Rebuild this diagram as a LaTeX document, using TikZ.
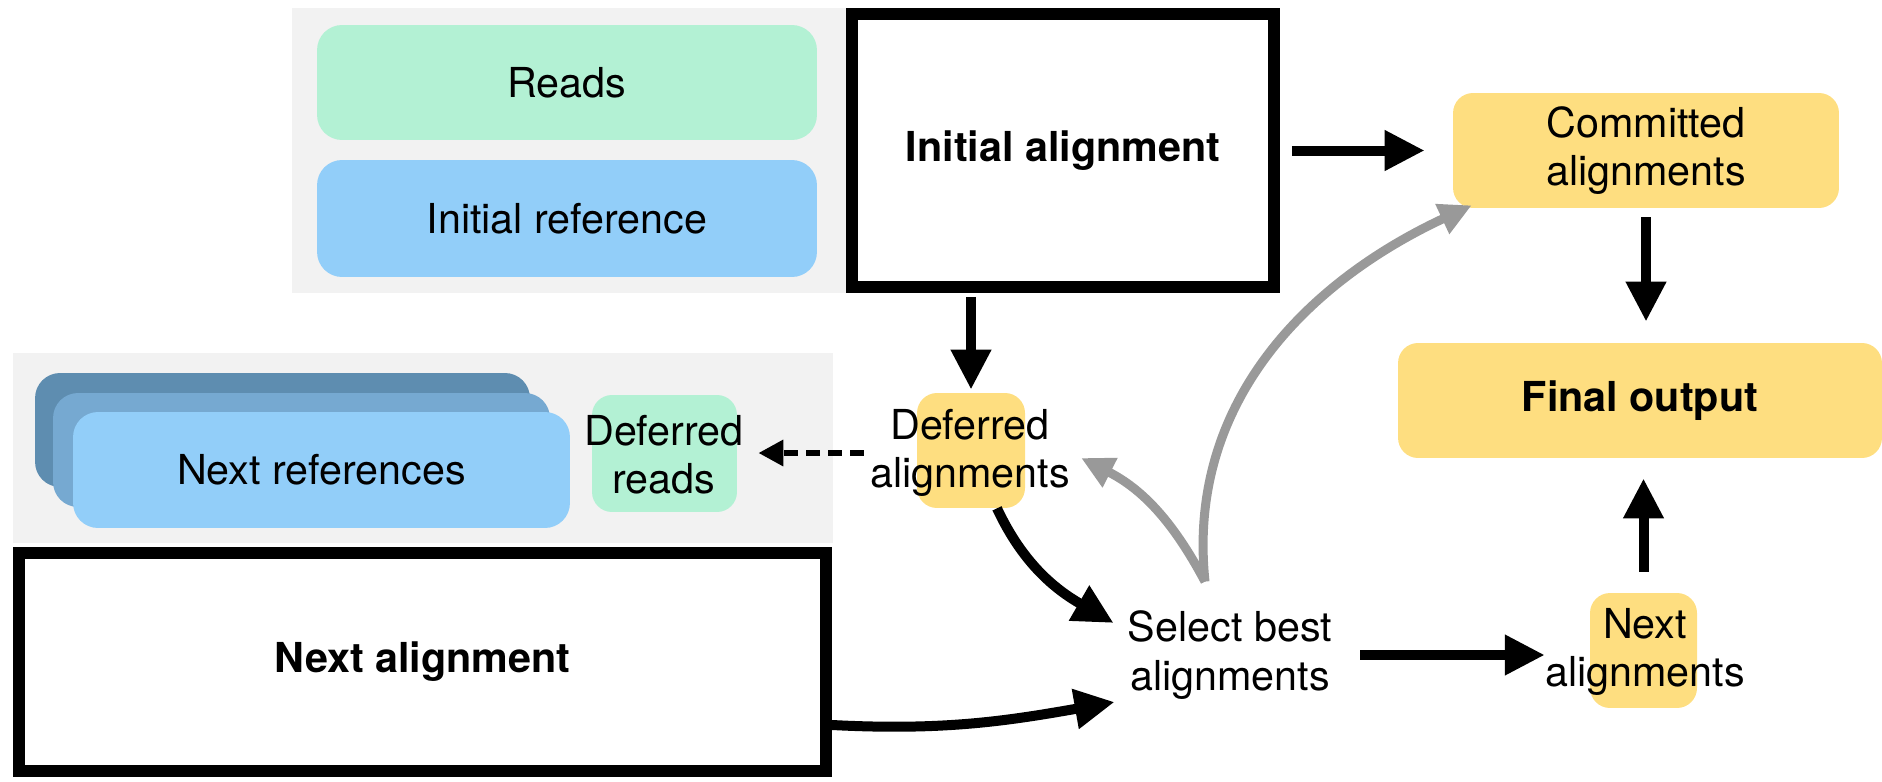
\documentclass[tikz,border=0pt]{standalone}
\usepackage{fontspec}
\setmainfont{TeX Gyre Heros}
\usetikzlibrary{arrows.meta}
\definecolor{panelgray}{HTML}{F2F2F2}
\definecolor{readgreen}{HTML}{B3F1D4}
\definecolor{refblue}{HTML}{92CEF9}
\definecolor{stackmid}{HTML}{76A9D1}
\definecolor{stackback}{HTML}{5E8DB0}
\definecolor{hlyellow}{HTML}{FEDE80}
\definecolor{arrowgray}{HTML}{999999}
\begin{document}
\begin{tikzpicture}[x=0.02cm,y=-0.02cm,
  font=\fontsize{23.5}{27.5}\selectfont,
  pill/.style={rounded corners=0.5cm,inner sep=0pt},
  hl/.style={fill=hlyellow,rounded corners=0.4cm,inner sep=0pt},
  txt/.style={inner sep=0pt,align=center},
  bigbox/.style={draw,line width=0.24cm,inner sep=0pt,font=\fontsize{23.5}{27.5}\selectfont\bfseries},
  blk/.style={line width=0.2cm,-{Triangle[length=0.8cm,width=0.76cm]}},
  gry/.style={draw=arrowgray,line width=0.18cm,-{Triangle[length=0.65cm,width=0.62cm]}},
  dsh/.style={line width=0.13cm,dash pattern=on 0.28cm off 0.16cm,-{Triangle[length=0.5cm,width=0.5cm]}}]
\useasboundingbox (0,0) rectangle (1882,781);
\fill[panelgray] (292,8) rectangle (846,293);
\fill[panelgray] (13,353) rectangle (833,543);
\node[pill,fill=readgreen,minimum width=10cm,minimum height=2.3cm] (reads) at (567,82.5) {Reads};
\node[pill,fill=refblue,minimum width=10cm,minimum height=2.34cm] (iref) at (567,218.5) {Initial reference};
\node[bigbox,minimum width=8.44cm,minimum height=5.46cm] (ialign) at (1063,150.5) {Initial alignment};
\node[hl,minimum width=7.72cm,minimum height=2.3cm,align=center] (commit) at (1646,150.5) {Committed\\alignments};
\node[hl,minimum width=9.68cm,minimum height=2.3cm,font=\fontsize{23.5}{27.5}\selectfont\bfseries] (final) at (1640,400.5) {Final output};
\node[pill,fill=stackback,minimum width=9.9cm,minimum height=2.28cm] (refs3) at (282.5,430) {};
\node[pill,fill=stackmid,minimum width=9.94cm,minimum height=2.28cm] (refs2) at (301.5,450) {};
\node[pill,fill=refblue,minimum width=9.94cm,minimum height=2.32cm] (refs) at (321.5,470) {Next references};
\node[pill,fill=readgreen,rounded corners=0.4cm,minimum width=2.9cm,minimum height=2.34cm] (drbg) at (664.5,453.5) {};
\node[txt] (dreads) at (664,455) {Deferred\\reads};
\node[hl,minimum width=2.16cm,minimum height=2.3cm] (defbg) at (971,450.5) {};
\node[txt] (defal) at (970,453) {Deferred\\alignments};
\node[bigbox,minimum width=16.14cm,minimum height=4.36cm] (nalign) at (422.5,662) {Next alignment};
\node[txt] (select) at (1230,655) {Select best\\alignments};
\node[hl,minimum width=2.14cm,minimum height=2.3cm] (nxtbg) at (1643.5,650.5) {};
\node[txt] (nxt) at (1645,652) {Next\\alignments};
\draw[blk] ([xshift=0.24cm]ialign.east) -- ([xshift=-0.56cm]commit.west);
\draw[blk,shorten <=0.18cm,shorten >=0.42cm] (commit.south) -- (commit.south |- final.north);
\draw[blk,shorten <=0.42cm,shorten >=0.4cm] (nxtbg.north) -- (nxtbg.north |- final.south);
\draw[blk,shorten <=0.56cm] (select.east) -- (select.east -| nxt.west);
\draw[blk,shorten <=0.08cm,shorten >=0.06cm] (defbg.north |- ialign.south) -- (defbg.north);
\draw[dsh] ([xshift=-0.12cm]defal.west) -- ([xshift=0.42cm]defal.west -| drbg.east);
\draw[blk] ([xshift=0.52cm]defbg.south) to[out=-65,in=150] ([xshift=-0.28cm,yshift=0.64cm]select.west);
\draw[blk] ([yshift=-1.26cm]nalign.east) to[out=-3,in=190] ([xshift=-0.26cm,yshift=-0.94cm]select.west);
\draw[gry] ([xshift=-0.5cm,yshift=0.58cm]select.north) to[out=118,in=-27] ([xshift=0.22cm,yshift=-0.1cm]defal.east);
\draw[gry] ([xshift=-0.5cm,yshift=0.58cm]select.north) to[out=96,in=205] ([xshift=0.38cm,yshift=0.06cm]commit.south west);
\end{tikzpicture}
\end{document}
